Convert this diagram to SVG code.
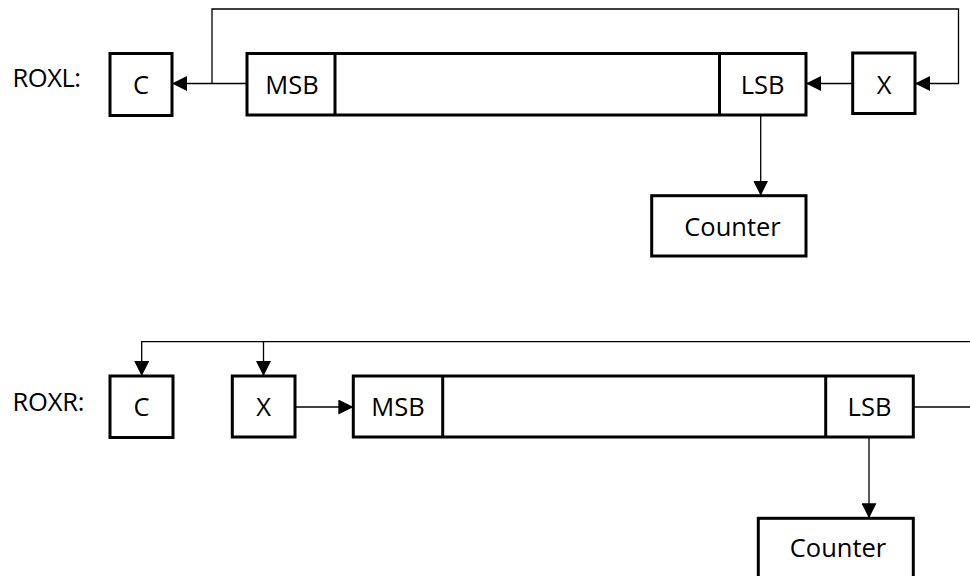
<svg xmlns="http://www.w3.org/2000/svg" width="970" height="576" viewBox="0 0 970 576">
<defs>
<marker id="ah" viewBox="0 0 15 15" refX="15" refY="7.5" markerWidth="15" markerHeight="15" markerUnits="userSpaceOnUse" orient="auto">
<path d="M0,0 L15,7.5 L0,15 z" fill="#000"/>
</marker>
<style>
.box{fill:#fff;stroke:#000;stroke-width:3}
.div{stroke:#000;stroke-width:3}
.t{font-family:"Open Sans","Noto Sans",sans-serif;font-size:25.5px;fill:#000;text-anchor:middle}
.lbl{font-family:"Open Sans","Noto Sans",sans-serif;font-size:25.5px;fill:#000}
.c{fill:none;stroke:#000;stroke-width:1.3}
.a{marker-end:url(#ah)}
</style>
</defs>
<rect width="970" height="576" fill="#fff"/>
<text class="lbl" x="12.5" y="87" textLength="68.5">ROXL:</text>
<text class="lbl" x="12.5" y="411" textLength="72">ROXR:</text>
<g id="connectors">
<path class="c a" d="M247,83.5 H172"/>
<path class="c a" d="M212,83.5 V9 H958.5 V83.5 H915"/>
<path class="c a" d="M852.7,83.5 H806"/>
<path class="c a" d="M760.7,115 V195.7"/>
<path class="c a" d="M970,341.7 H141.7 V376"/>
<path class="c a" d="M263.5,341.7 V376"/>
<path class="c a" d="M295,407 H353.3"/>
<path class="c" d="M913.3,407 H970"/>
<path class="c a" d="M869,437 V518.3"/>
</g>
<g id="c-top">
<rect class="box" x="110" y="53.5" width="62" height="62"/>
<text class="t" x="141" y="94">C</text>
</g>
<g id="reg-top">
<rect class="box" x="247" y="53.5" width="559" height="61.5"/>
<line class="div" x1="335" y1="53.5" x2="335" y2="115"/>
<line class="div" x1="719.5" y1="53.5" x2="719.5" y2="115"/>
<text class="t" x="292" y="94">MSB</text>
<text class="t" x="762.7" y="94">LSB</text>
</g>
<g id="x-top">
<rect class="box" x="852.7" y="53" width="62.3" height="60.5"/>
<text class="t" x="884" y="93.5">X</text>
</g>
<g id="counter-top">
<rect class="box" x="651.7" y="195.7" width="154.3" height="60.3"/>
<text class="t" x="732.5" y="236">Counter</text>
</g>
<g id="c-bot">
<rect class="box" x="110" y="376" width="63" height="61.5"/>
<text class="t" x="141.5" y="416">C</text>
</g>
<g id="x-bot">
<rect class="box" x="232.3" y="376" width="62.7" height="61"/>
<text class="t" x="263.7" y="416">X</text>
</g>
<g id="reg-bot">
<rect class="box" x="353.3" y="376" width="560" height="61"/>
<line class="div" x1="442.7" y1="376" x2="442.7" y2="437"/>
<line class="div" x1="825.7" y1="376" x2="825.7" y2="437"/>
<text class="t" x="398" y="416">MSB</text>
<text class="t" x="869.5" y="416">LSB</text>
</g>
<g id="counter-bot">
<rect class="box" x="758.3" y="518.3" width="155" height="80"/>
<text class="t" x="838" y="557">Counter</text>
</g>
</svg>
